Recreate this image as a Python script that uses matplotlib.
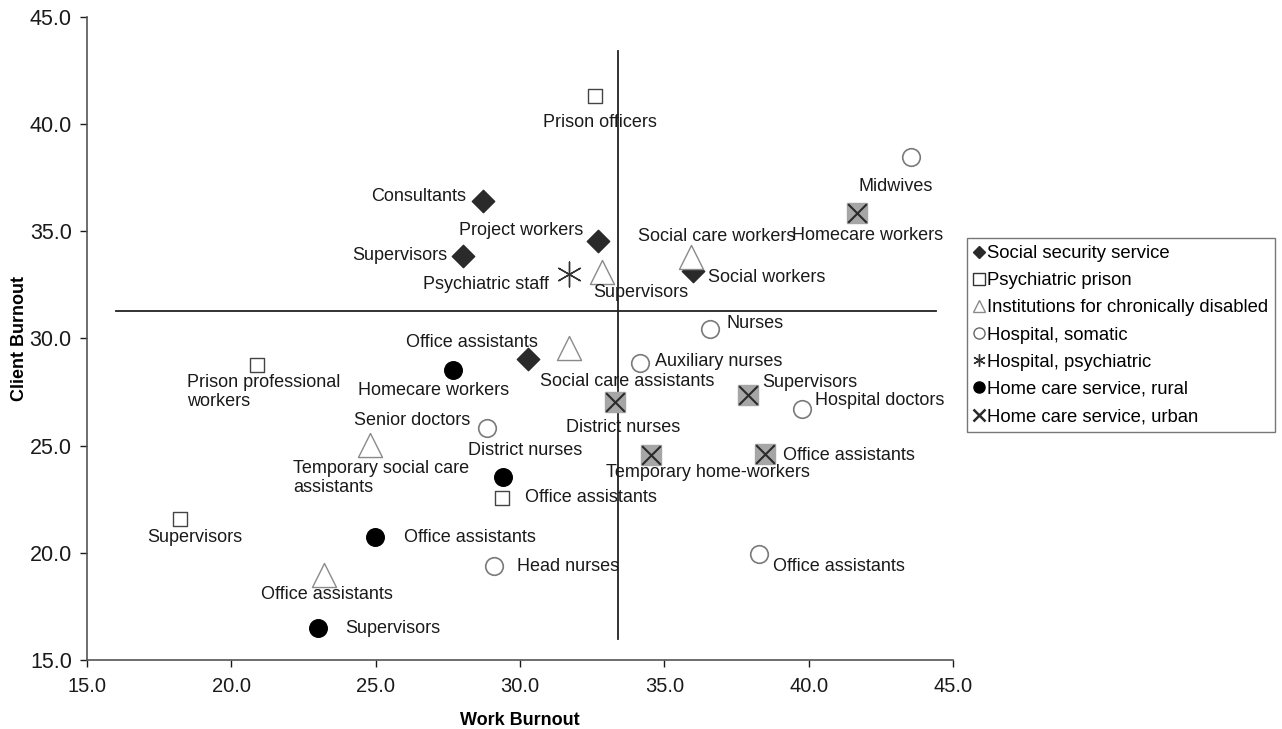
import matplotlib.pyplot as plt
from matplotlib.lines import Line2D

plt.rcParams['font.family'] = ['Liberation Sans', 'DejaVu Sans']

# ---------------- data ----------------
social_x = [28.72, 32.70, 28.02, 30.28, 35.99]
social_y = [36.41, 34.55, 33.85, 29.04, 33.15]
social_lab = ['Consultants', 'Project workers', 'Supervisors',
              'Office assistants', 'Social workers']

prison_x = [32.60, 20.89, 29.37, 18.22]
prison_y = [41.31, 28.76, 22.56, 21.57]
prison_lab = ['Prison officers', 'Prison professional\nworkers',
              'Office assistants', 'Supervisors']

inst_x = [35.92, 32.84, 31.70, 24.80, 23.21]
inst_y = [33.80, 33.10, 29.55, 25.03, 18.96]
inst_lab = ['Social care workers', 'Supervisors', 'Social care assistants',
            'Temporary social care\nassistants', 'Office assistants']

somatic_x = [43.54, 36.58, 34.15, 28.86, 39.77, 29.10, 38.28]
somatic_y = [38.47, 30.44, 28.85, 25.82, 26.71, 19.38, 19.94]
somatic_lab = ['Midwives', 'Nurses', 'Auxiliary nurses', 'Senior doctors',
               'Hospital doctors', 'Head nurses', 'Office assistants']

psych_x = [31.70]
psych_y = [33.00]
psych_lab = ['Psychiatric staff']

rural_x = [27.68, 29.41, 24.98, 23.00]
rural_y = [28.53, 23.54, 20.73, 16.49]
rural_lab = ['Homecare workers', 'District nurses', 'Office assistants',
             'Supervisors']

urban_x = [41.67, 37.90, 33.29, 34.54, 38.49]
urban_y = [35.85, 27.36, 27.03, 24.56, 24.61]
urban_lab = ['Homecare workers', 'Supervisors', 'District nurses',
             'Temporary home-workers', 'Office assistants']

# quadrant lines (means)
mean_work = 33.4
mean_client = 31.3
hline_span = (16.0, 44.4)
vline_span = (16.0, 43.4)

# label placement: (dx, dy) in pixels, horizontal alignment
social_off = [(-17, 5, 'right'), (-15, 10, 'right'), (-16, 0, 'right'),
              (10, 17, 'right'), (15, -7, 'left')]
prison_off = [(5, -26, 'center'), (-70, -27, 'left'), (23, 0, 'left'),
              (15, -18, 'center')]
inst_off = [(26, 21, 'center'), (-9, -20, 'left'), (58, -33, 'center'),
            (-77, -33, 'left'), (3, -19, 'center')]
somatic_off = [(-15, -30, 'center'), (17, 6, 'left'), (15, 2, 'left'),
               (-17, 8, 'right'), (13, 8, 'left'), (23, 0, 'left'),
               (14, -12, 'left')]
psych_off = [(-20, -10, 'right')]
rural_off = [(-20, -21, 'center'), (22, 26, 'center'), (29, 0, 'left'),
             (27, 0, 'left')]
urban_off = [(11, -22, 'center'), (14, 13, 'left'), (8, -25, 'center'),
             (57, -17, 'center'), (18, -2, 'left')]


def annotate(ax, xs, ys, labels, offsets):
    for x, y, lab, (dx, dy, ha) in zip(xs, ys, labels, offsets):
        ax.annotate(lab, (x, y), xytext=(dx, dy), textcoords='offset pixels',
                    ha=ha, va='center', fontsize=13, color='#1a1a1a',
                    linespacing=1.15)


def main():
    fig = plt.figure(figsize=(12.82, 7.29), dpi=100)
    ax = fig.add_axes([0.0679, 0.0947, 0.6755, 0.882])

    # quadrant lines
    ax.plot(hline_span, [mean_client, mean_client], color='#222222', lw=1.3, zorder=1)
    ax.plot([mean_work, mean_work], vline_span, color='#222222', lw=1.3, zorder=1)

    ax.scatter(social_x, social_y, marker='D', s=130, c='#2a2a2a', zorder=3)
    ax.scatter(prison_x, prison_y, marker='s', s=110, facecolors='white',
               edgecolors='#444444', linewidths=1.0, zorder=3)
    ax.scatter(inst_x, inst_y, marker='^', s=300, facecolors='white',
               edgecolors='#8a8a8a', linewidths=1.0, zorder=3)
    ax.scatter(somatic_x, somatic_y, marker='o', s=160, facecolors='white',
               edgecolors='#7a7a7a', linewidths=1.2, zorder=3)
    ax.scatter(psych_x, psych_y, marker=(6, 2, 0), s=320, c='#333333',
               linewidths=1.0, zorder=3)
    ax.scatter(rural_x, rural_y, marker='o', s=160, c='black', zorder=3)
    ax.scatter(urban_x, urban_y, marker='s', s=220, c='#a6a6a6', zorder=3)
    ax.scatter(urban_x, urban_y, marker='x', s=180, c='#2a2a2a',
               linewidths=1.5, zorder=4)

    annotate(ax, social_x, social_y, social_lab, social_off)
    annotate(ax, prison_x, prison_y, prison_lab, prison_off)
    annotate(ax, inst_x, inst_y, inst_lab, inst_off)
    annotate(ax, somatic_x, somatic_y, somatic_lab, somatic_off)
    annotate(ax, psych_x, psych_y, psych_lab, psych_off)
    annotate(ax, rural_x, rural_y, rural_lab, rural_off)
    annotate(ax, urban_x, urban_y, urban_lab, urban_off)

    ax.set_xlim(15, 45)
    ax.set_ylim(15, 45)
    ax.set_xticks(range(15, 46, 5))
    ax.set_yticks(range(15, 46, 5))
    ax.set_xticklabels(['%.1f' % v for v in range(15, 46, 5)])
    ax.set_yticklabels(['%.1f' % v for v in range(15, 46, 5)])
    ax.tick_params(labelsize=14.5, colors='#1a1a1a', length=5, width=1)
    ax.tick_params(axis='x', pad=7)
    ax.tick_params(axis='y', pad=6, labelsize=15.5)
    for side in ['top', 'right']:
        ax.spines[side].set_visible(False)
    for side in ['left', 'bottom']:
        ax.spines[side].set_color('#555555')
        ax.spines[side].set_linewidth(1.2)
    ax.set_xlabel('Work Burnout', fontsize=13, fontweight='bold', labelpad=12)
    ax.set_ylabel('Client Burnout', fontsize=13, fontweight='bold', labelpad=1)

    handles = [
        Line2D([], [], ls='', marker='D', ms=6, color='#2a2a2a'),
        Line2D([], [], ls='', marker='s', ms=8, mfc='white', mec='#333333'),
        Line2D([], [], ls='', marker='^', ms=8, mfc='white', mec='#8a8a8a'),
        Line2D([], [], ls='', marker='o', ms=8, mfc='white', mec='#666666'),
        Line2D([], [], ls='', marker=(6, 2, 0), ms=9, color='#333333'),
        Line2D([], [], ls='', marker='o', ms=8, color='black'),
        Line2D([], [], ls='', marker='x', ms=8, mew=1.8, color='#2a2a2a'),
    ]
    names = ['Social security service', 'Psychiatric prison',
             'Institutions for chronically disabled', 'Hospital, somatic',
             'Hospital, psychiatric', 'Home care service, rural',
             'Home care service, urban']
    leg = fig.legend(handles, names, loc='upper left',
                     bbox_to_anchor=(0.754, 0.674), fontsize=13.3,
                     frameon=True, fancybox=False, handlelength=0.5,
                     handletextpad=0.2, labelspacing=0.55, borderpad=0.4,
                     borderaxespad=0)
    leg.get_frame().set_edgecolor('#555555')
    leg.get_frame().set_linewidth(1.0)

    fig.savefig('out.png', dpi=100)


if __name__ == '__main__':
    main()
